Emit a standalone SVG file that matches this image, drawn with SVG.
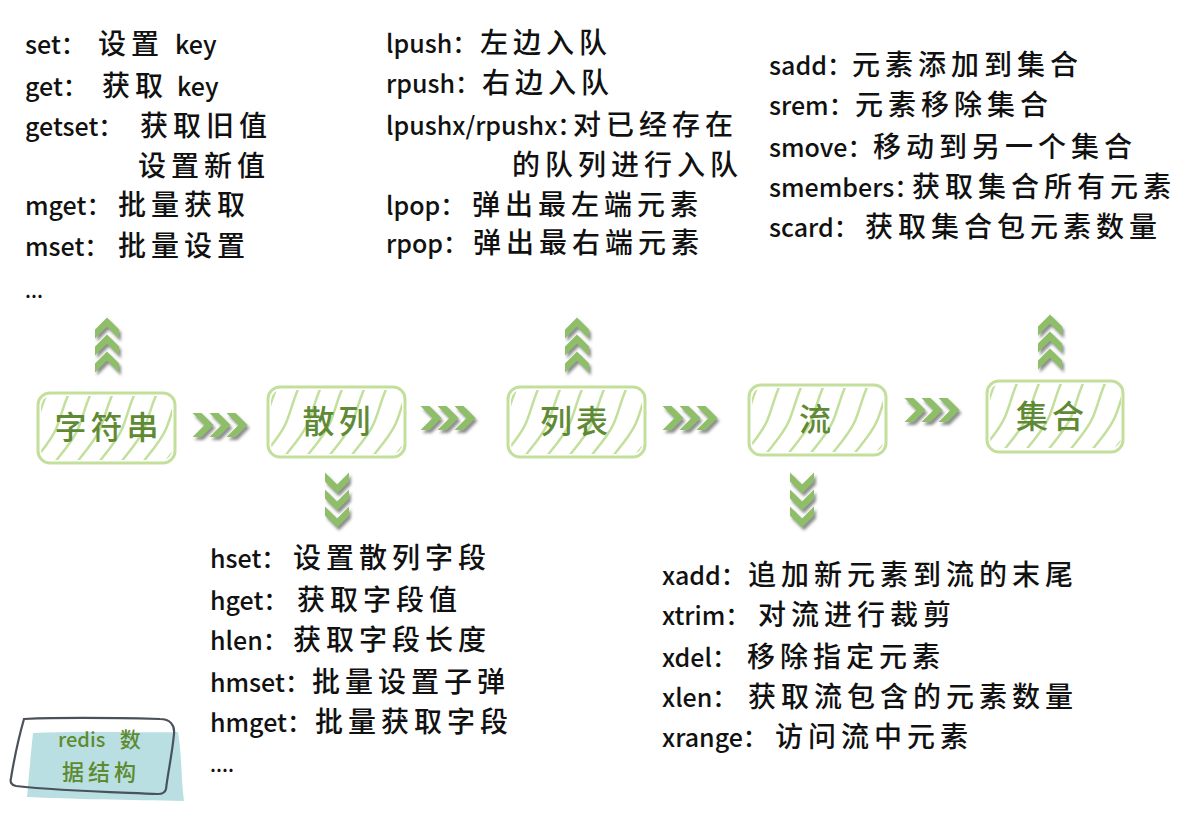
<svg xmlns="http://www.w3.org/2000/svg" xmlns:xlink="http://www.w3.org/1999/xlink" width="1192" height="825" viewBox="0 0 1192 825">
<style>
  .t { font-family: "Noto Sans CJK SC", "Noto Sans", sans-serif; font-size: 25px; font-weight: 500; fill: #111; }
  .c { font-size: 28px; letter-spacing: 5px; }
  .box { fill: none; stroke: #c3df9c; stroke-width: 3; }
  .lbl { font-family: "Noto Sans CJK SC", sans-serif; font-size: 32px; font-weight: 500; fill: #5e8a36; letter-spacing: 4px; text-anchor: middle; }
  .chev { fill: #8fbe68; }
  .leg { font-family: "Noto Sans CJK SC", sans-serif; font-weight: 500; fill: #5e8a30; }
</style>
<defs>
  <filter id="sh" x="-30%" y="-30%" width="160%" height="160%">
    <feDropShadow dx="2" dy="3" stdDeviation="1.4" flood-color="#666" flood-opacity="0.75"/>
  </filter>
  <clipPath id="boxclip"><rect x="3" y="3" width="131" height="64" rx="10"/></clipPath>
  <g id="hatch" clip-path="url(#boxclip)" fill="none" stroke="#c3df9c" stroke-width="2.5" stroke-linecap="round">
    <path d="M-34,78 C-22,62 -10,50 -4,36 S4,8 12,-6"/>
    <path d="M-12,78 C0,62 12,50 18,36 S26,8 34,-6"/>
    <path d="M10,78 C22,62 34,50 40,36 S48,8 56,-6"/>
    <path d="M32,78 C44,62 56,50 62,36 S70,8 78,-6"/>
    <path d="M54,78 C66,62 78,50 84,36 S92,8 100,-6"/>
    <path d="M76,78 C88,62 100,50 106,36 S114,8 122,-6"/>
    <path d="M98,78 C110,62 122,50 128,36 S136,8 144,-6"/>
    <path d="M120,78 C132,62 144,50 150,36 S158,8 166,-6"/>
  </g>
  <path id="chev1" class="chev" d="M0,0 L9,0 L21,12 L9,24 L0,24 L12,12 Z"/>
  <g id="chev3">
    <use href="#chev1" x="-27.5" y="-12"/>
    <use href="#chev1" x="-10.5" y="-12"/>
    <use href="#chev1" x="6.5" y="-12"/>
  </g>
</defs>

<rect x="0" y="0" width="1192" height="825" fill="#ffffff"/>

<!-- connectors (chevron arrows) -->
<g id="connectors">
  <g filter="url(#sh)"><use href="#chev3" transform="translate(220,425)"/></g>
  <g filter="url(#sh)"><use href="#chev3" transform="translate(448,418)"/></g>
  <g filter="url(#sh)"><use href="#chev3" transform="translate(690,418)"/></g>
  <g filter="url(#sh)"><use href="#chev3" transform="translate(932,410)"/></g>
  <g filter="url(#sh)"><use href="#chev3" transform="translate(107,345) rotate(-90)"/></g>
  <g filter="url(#sh)"><use href="#chev3" transform="translate(577,345) rotate(-90)"/></g>
  <g filter="url(#sh)"><use href="#chev3" transform="translate(1050,342) rotate(-90)"/></g>
  <g filter="url(#sh)"><use href="#chev3" transform="translate(337,500) rotate(90)"/></g>
  <g filter="url(#sh)"><use href="#chev3" transform="translate(802,500) rotate(90)"/></g>
</g>

<!-- nodes -->
<g id="node-string" transform="translate(38,393)">
  <use href="#hatch"/>
  <rect class="box" x="0" y="0" width="137" height="70" rx="12"/>
  <text class="lbl" x="70.5" y="46">字符串</text>
</g>
<g id="node-hash" transform="translate(268,387)">
  <use href="#hatch"/>
  <rect class="box" x="0" y="0" width="137" height="70" rx="12"/>
  <text class="lbl" x="70.5" y="46">散列</text>
</g>
<g id="node-list" transform="translate(508,387)">
  <use href="#hatch"/>
  <rect class="box" x="0" y="0" width="137" height="70" rx="12"/>
  <text class="lbl" x="68" y="46">列表</text>
</g>
<g id="node-stream" transform="translate(749,385)">
  <use href="#hatch"/>
  <rect class="box" x="0" y="0" width="137" height="70" rx="12"/>
  <text class="lbl" x="68" y="46">流</text>
</g>
<g id="node-set" transform="translate(987,381)">
  <use href="#hatch"/>
  <rect class="box" x="0" y="0" width="136" height="71" rx="12"/>
  <text class="lbl" x="65" y="47">集合</text>
</g>

<!-- string commands -->
<g id="string-cmds">
  <text class="t" x="25" y="54">set：<tspan class="c" x="98">设置</tspan><tspan x="175">key</tspan></text>
  <text class="t" x="25" y="96">get：<tspan class="c" x="102">获取</tspan><tspan x="177">key</tspan></text>
  <text class="t" x="25" y="136">getset：<tspan class="c" x="140">获取旧值</tspan></text>
  <text class="t" x="138" y="176"><tspan class="c">设置新值</tspan></text>
  <text class="t" x="25" y="215">mget：<tspan class="c" x="118">批量获取</tspan></text>
  <text class="t" x="25" y="256">mset：<tspan class="c" x="118">批量设置</tspan></text>
  <text class="t" x="25" y="298" style="font-size:20px">...</text>
</g>

<!-- list commands -->
<g id="list-cmds">
  <text class="t" x="386" y="53">lpush：<tspan class="c" x="480">左边入队</tspan></text>
  <text class="t" x="386" y="93">rpush：<tspan class="c" x="482">右边入队</tspan></text>
  <text class="t" x="386" y="135">lpushx/rpushx：<tspan class="c" x="573">对已经存在</tspan></text>
  <text class="t" x="512" y="175"><tspan class="c">的队列进行入队</tspan></text>
  <text class="t" x="386" y="215">lpop：<tspan class="c" x="472">弹出最左端元素</tspan></text>
  <text class="t" x="386" y="253">rpop：<tspan class="c" x="473">弹出最右端元素</tspan></text>
</g>

<!-- set commands -->
<g id="set-cmds">
  <text class="t" x="769" y="75">sadd：<tspan class="c" x="852">元素添加到集合</tspan></text>
  <text class="t" x="769" y="115">srem：<tspan class="c" x="855">元素移除集合</tspan></text>
  <text class="t" x="769" y="157">smove：<tspan class="c" x="873">移动到另一个集合</tspan></text>
  <text class="t" x="769" y="197">smembers：<tspan class="c" x="912">获取集合所有元素</tspan></text>
  <text class="t" x="769" y="237">scard：<tspan class="c" x="865">获取集合包元素数量</tspan></text>
</g>

<!-- hash commands -->
<g id="hash-cmds">
  <text class="t" x="210" y="568">hset：<tspan class="c" x="293">设置散列字段</tspan></text>
  <text class="t" x="210" y="610">hget：<tspan class="c" x="297">获取字段值</tspan></text>
  <text class="t" x="210" y="650">hlen：<tspan class="c" x="293">获取字段长度</tspan></text>
  <text class="t" x="210" y="692">hmset：<tspan class="c" x="312">批量设置子弹</tspan></text>
  <text class="t" x="210" y="732">hmget：<tspan class="c" x="315">批量获取字段</tspan></text>
  <text class="t" x="210" y="772" style="font-size:20px">....</text>
</g>

<!-- stream commands -->
<g id="stream-cmds">
  <text class="t" x="662" y="585">xadd：<tspan class="c" x="748">追加新元素到流的末尾</tspan></text>
  <text class="t" x="662" y="625">xtrim：<tspan class="c" x="758">对流进行裁剪</tspan></text>
  <text class="t" x="662" y="667">xdel：<tspan class="c" x="747">移除指定元素</tspan></text>
  <text class="t" x="662" y="707">xlen：<tspan class="c" x="748">获取流包含的元素数量</tspan></text>
  <text class="t" x="662" y="747">xrange：<tspan class="c" x="775">访问流中元素</tspan></text>
</g>

<!-- legend -->
<g id="legend">
  <path d="M33,733 C80,731 140,733 178,732 C182,755 181,780 184,801 C130,800 70,799 27,797 C29,775 31,752 33,733 Z" fill="#b9dfe2"/>
  <path d="M24,719 C70,717 120,718 160,719 C170,719 175,725 174,734 C172,755 168,772 166,789 C165,793 162,794 158,794 C110,792 60,791 16,786 C11,785 10,782 11,778 C14,760 18,740 24,719 Z" fill="none" stroke="#4a515a" stroke-width="2.2"/>
  <text class="leg" x="58" y="747" style="font-size:20px">redis <tspan dx="10" style="font-size:21px">数</tspan></text>
  <text class="leg" x="62" y="780" style="font-size:22px; letter-spacing:4px">据结构</text>
</g>
</svg>
